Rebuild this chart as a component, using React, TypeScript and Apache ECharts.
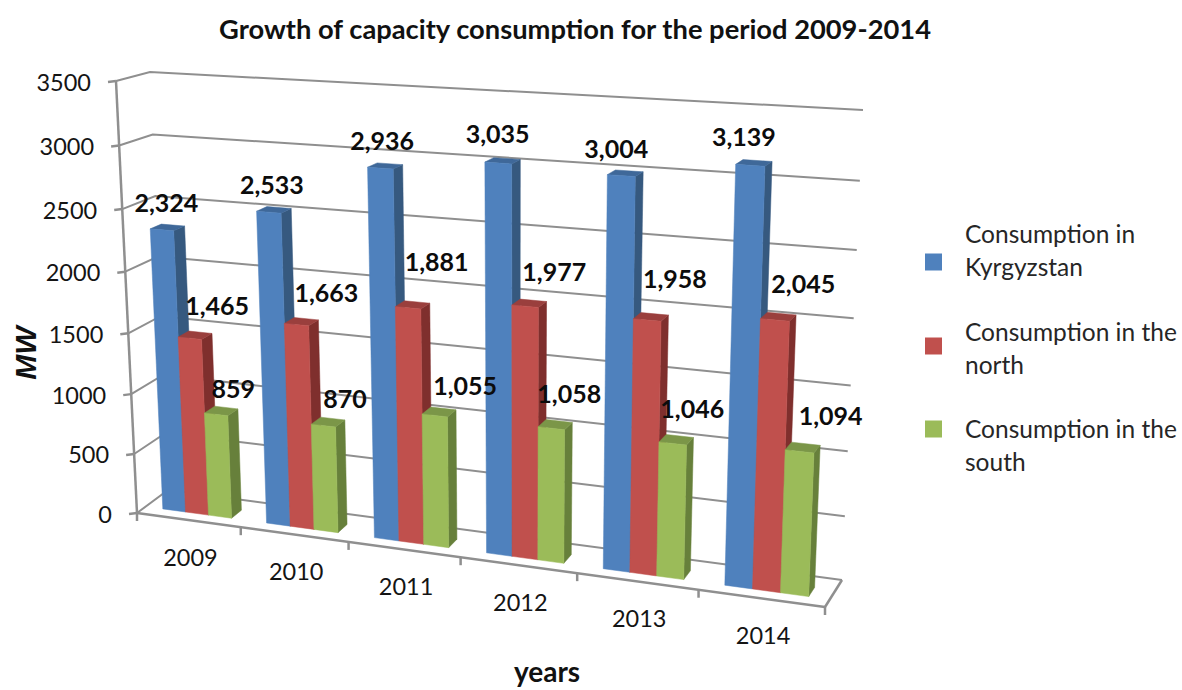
import React, { useEffect, useRef } from "react";
import * as echarts from "echarts";

const years = ["2009", "2010", "2011", "2012", "2013", "2014"];
const kyrgyzstan = [2324, 2533, 2936, 3035, 3004, 3139];
const north = [1465, 1663, 1881, 1977, 1958, 2045];
const south = [859, 870, 1055, 1058, 1046, 1094];
const valueTicks = [0, 500, 1000, 1500, 2000, 2500, 3000, 3500];
const seriesNames = ["Consumption in Kyrgyzstan", "Consumption in the north", "Consumption in the south"];
const legendLines = [["Consumption in", "Kyrgyzstan"], ["Consumption in the", "north"], ["Consumption in the", "south"]];

// Hand placement of the value labels relative to the top of their bar, [dx, dy] per year.
const kyrgyzstanLabelShift = [[-1, -25], [-2, -26], [-3, -26], [-5, -28], [-9, -25], [-10, -27]];
const northLabelShift = [[22, -30], [25, -30], [24, -44], [25, -32], [24, -39], [25, -34]];
const southLabelShift = [[12, -23], [17, -24], [26, -27], [14, -32], [16, -32], [28, -33]];

type P = [number, number];

// Corners of the box in view: the front plane and the back wall, [bottom-left, bottom-right, top-right, top-left].
const frontPlane: P[] = [[137, 513], [825, 607], [843, 123], [116, 81]];
const backPlane: P[] = [[168, 490], [842, 580], [863, 110], [150, 72]];

function squareToQuad(q: P[]) {
  const [[x0, y0], [x1, y1], [x2, y2], [x3, y3]] = q;
  const dx1 = x1 - x2, dx2 = x3 - x2, sx = x0 - x1 + x2 - x3;
  const dy1 = y1 - y2, dy2 = y3 - y2, sy = y0 - y1 + y2 - y3;
  const den = dx1 * dy2 - dx2 * dy1;
  const g = (sx * dy2 - dx2 * sy) / den;
  const h = (dx1 * sy - sx * dy1) / den;
  const a = x1 - x0 + g * x1, b = x3 - x0 + h * x3;
  const d = y1 - y0 + g * y1, e = y3 - y0 + h * y3;
  return (u: number, v: number): P => {
    const w = g * u + h * v + 1;
    return [(a * u + b * v + x0) / w, (d * u + e * v + y0) / w];
  };
}
const toFront = squareToQuad(frontPlane);
const toBack = squareToQuad(backPlane);

// u along the years, v up the value axis, w from the front plane (0) to the back wall (1).
function project(u: number, v: number, w: number): P {
  const f = toFront(u, v);
  const b = toBack(u, v);
  return [f[0] + (b[0] - f[0]) * w, f[1] + (b[1] - f[1]) * w];
}

// Turns a category/value pair into the normalised box position through the chart's own axes.
function boxPosition(params: any, api: any, cat: number, value: number) {
  const c = api.coord([cat, value]);
  const r = params.coordSys;
  return { u: (c[0] - r.x) / r.width, v: 1 - (c[1] - r.y) / r.height, bandU: api.size([1, 0])[0] / r.width };
}

const GRID = "#8f8f8f";
const TEXT = "#141414";
const FONT = "Lato, 'Open Sans', sans-serif";
const BAR_W0 = 0.28;
const BAR_W1 = 0.62;
const BAR_BAND = 1 / 4.5;
const SIDE_GAP = 0.76 / 4.5;

const faces = [
  { front: "#4f81bd", side: "#36597f", top: "#3f6899" },
  { front: "#c0504d", side: "#7f2f2d", top: "#9a3f3d" },
  { front: "#9bbb59", side: "#67803b", top: "#7b9648" },
];

function barRenderer(s: number) {
  return (params: any, api: any) => {
    const cat = api.value(0);
    const { u, v, bandU } = boxPosition(params, api, cat, api.value(1));
    const u0 = u + (-0.5 + SIDE_GAP + s * BAR_BAND) * bandU;
    const u1 = u0 + BAR_BAND * bandU;
    const quad = (pts: P[], fill: string) => ({
      type: "polygon",
      shape: { points: pts },
      style: { fill, stroke: fill, lineWidth: 0.5 },
    });
    return {
      type: "group",
      children: [
        quad([project(u1, 0, BAR_W0), project(u1, 0, BAR_W1), project(u1, v, BAR_W1), project(u1, v, BAR_W0)], faces[s].side),
        quad([project(u0, v, BAR_W0), project(u1, v, BAR_W0), project(u1, v, BAR_W1), project(u0, v, BAR_W1)], faces[s].top),
        quad([project(u0, 0, BAR_W0), project(u1, 0, BAR_W0), project(u1, v, BAR_W0), project(u0, v, BAR_W0)], faces[s].front),
      ],
    };
  };
}

function labelRenderer(s: number, shifts: number[][]) {
  return (params: any, api: any) => {
    const cat = api.value(0);
    const value = api.value(1);
    const { u, v, bandU } = boxPosition(params, api, cat, value);
    const uc = u + (-0.5 + SIDE_GAP + (s + 0.5) * BAR_BAND) * bandU;
    const top = project(uc, v, (BAR_W0 + BAR_W1) / 2);
    const [dx, dy] = shifts[cat];
    return {
      type: "text",
      x: top[0] + dx,
      y: top[1] + dy,
      style: {
        text: value.toLocaleString("en-US"),
        fontFamily: FONT,
        fontWeight: "bold",
        fontSize: 25,
        fill: "#0c0c0c",
        align: "center",
        verticalAlign: "middle",
      },
    };
  };
}

function stroke(width = 2) {
  return { stroke: GRID, lineWidth: width, fill: "none" };
}

function gridlineRenderer(params: any, api: any) {
  const { v } = boxPosition(params, api, 0, api.value(1));
  const fl = project(0, v, 0);
  const bl = project(0, v, 1);
  const br = project(1, v, 1);
  return {
    type: "group",
    children: [
      { type: "polyline", shape: { points: [fl, bl, br] }, style: stroke() },
      { type: "line", shape: { x1: fl[0] - 8, y1: fl[1] + 1, x2: fl[0], y2: fl[1] }, style: stroke(2.5) },
      {
        type: "text",
        x: fl[0] - 25,
        y: fl[1] + 0.5,
        style: {
          text: String(api.value(1)),
          fontFamily: FONT,
          fontSize: 23.5,
          fill: TEXT,
          align: "right",
          verticalAlign: "middle",
        },
      },
    ],
  };
}

function floorRenderer(params: any, api: any) {
  const cat = api.value(0);
  const { u, bandU } = boxPosition(params, api, cat, 0);
  const bound = u + bandU / 2;
  const base = project(u, 0, 0);
  const tick = project(bound, 0, 0);
  const children: any[] = [
    {
      type: "text",
      x: base[0] + 2,
      y: base[1] + 37,
      style: {
        text: years[cat],
        fontFamily: FONT,
        fontSize: 23.5,
        fill: TEXT,
        align: "center",
        verticalAlign: "middle",
      },
    },
    { type: "line", shape: { x1: tick[0], y1: tick[1], x2: tick[0], y2: tick[1] + 8 }, style: stroke(2.5) },
  ];
  if (cat === 0) {
    // Box edges: front axis, floor outline and the foot of the value axis.
    const edge = (a: P, b: P) => ({ type: "line", shape: { x1: a[0], y1: a[1], x2: b[0], y2: b[1] }, style: stroke(2.5) });
    const fl = project(0, 0, 0);
    children.push(
      edge(fl, project(0, 1, 0)),
      edge(fl, project(1, 0, 0)),
      edge(project(1, 0, 0), project(1, 0, 1)),
      edge(fl, [fl[0], fl[1] + 8]),
    );
  }
  return { type: "group", children };
}

const byYear = (values: number[]) => values.map((v, i) => [i, v]);

// Key on the right: swatches and their two-line captions run at different pitches.
const SWATCH_Y = [262, 346, 429];
const CAPTION_Y = [233, 331, 428];
const legendGraphics = seriesNames.flatMap((_, s) => [
  {
    type: "rect",
    shape: { x: 925, y: SWATCH_Y[s] - 8.5, width: 17, height: 17 },
    style: { fill: faces[s].front },
  },
  ...legendLines[s].map((line, i) => ({
    type: "text",
    x: 965,
    y: CAPTION_Y[s] + i * 33,
    style: { text: line, fontFamily: FONT, fontSize: 24.5, fill: "#262626", align: "left", verticalAlign: "middle" },
  })),
]);

export default function App() {
  const ref = useRef<HTMLDivElement>(null);
  useEffect(() => {
    document.body.style.margin = "0";
    const chart = echarts.init(ref.current!, undefined, { renderer: "svg" });
    const custom = { type: "custom", coordinateSystem: "cartesian2d", clip: false, silent: true, encode: { x: 0, y: 1 } };
    const barSets = [kyrgyzstan, north, south];
    const shifts = [kyrgyzstanLabelShift, northLabelShift, southLabelShift];
    chart.setOption({
      animation: false,
      backgroundColor: "#ffffff",
      title: {
        text: "Growth of capacity consumption for the period 2009-2014",
        left: 570,
        top: 23,
        textAlign: "center",
        textVerticalAlign: "middle",
        textStyle: { fontFamily: FONT, fontWeight: "bold", fontSize: 27.3, color: "#111111" },
      },
      grid: { left: 137, top: 81, width: 688, height: 432 },
      xAxis: { type: "category", data: years, show: false },
      yAxis: { type: "value", min: 0, max: 3500, interval: 500, show: false },
      graphic: [
        ...legendGraphics,
        {
          type: "text",
          x: 547,
          y: 671,
          style: { text: "years", fontFamily: FONT, fontWeight: "bold", fontSize: 28, fill: "#111111", align: "center", verticalAlign: "middle" },
        },
        {
          type: "text",
          x: 25,
          y: 353,
          rotation: Math.PI / 2,
          style: { text: "MW", fontFamily: "'Liberation Sans', sans-serif", fontWeight: "bold", fontStyle: "italic", fontSize: 30, fill: "#111111", align: "center", verticalAlign: "middle" },
        },
      ],
      series: [
        { ...custom, name: "walls", z: 1, data: valueTicks.map((t) => [0, t]), renderItem: gridlineRenderer },
        { ...custom, name: "floor", z: 2, data: years.map((_, i) => [i, 0]), renderItem: floorRenderer },
        ...barSets.map((values, s) => ({
          ...custom,
          name: seriesNames[s],
          z: 3 + s,
          itemStyle: { color: faces[s].front },
          data: byYear(values),
          renderItem: barRenderer(s),
        })),
        ...barSets.map((values, s) => ({
          ...custom,
          name: "labels " + s,
          z: 10,
          data: byYear(values),
          renderItem: labelRenderer(s, shifts[s]),
        })),
      ],
    });
    return () => chart.dispose();
  }, []);
  return <div ref={ref} style={{ position: "absolute", left: 0, top: 0, width: 1182, height: 690 }} />;
}
